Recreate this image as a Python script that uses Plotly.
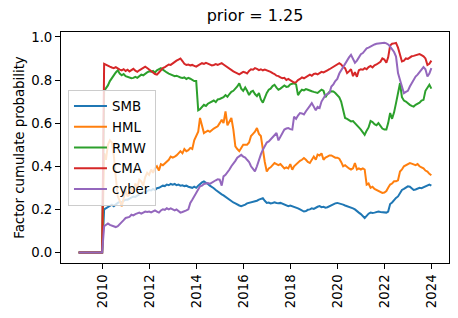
import pandas as pd
import plotly.graph_objects as go

try:
    dates = pd.date_range("2008-12-31", "2023-12-31", freq="ME")
except Exception:
    dates = pd.date_range("2008-12-31", "2023-12-31", freq="M")

ZEROS = [0.0] * 13  # 2008-12 .. 2009-12

smb = ZEROS + [
    0.200, 0.205, 0.210, 0.218, 0.222, 0.215, 0.225, 0.230, 0.235, 0.232, 0.240, 0.245,
    0.245, 0.250, 0.255, 0.260, 0.258, 0.265, 0.270, 0.275, 0.280, 0.278, 0.285, 0.290,
    0.288, 0.295, 0.290, 0.298, 0.300, 0.305, 0.310, 0.308, 0.315, 0.312, 0.318, 0.315,
    0.318, 0.312, 0.315, 0.310, 0.312, 0.308, 0.310, 0.305, 0.302, 0.300, 0.305, 0.300,
    0.310, 0.318, 0.325, 0.330, 0.325, 0.318, 0.310, 0.305, 0.298, 0.290, 0.282, 0.278,
    0.270, 0.265, 0.258, 0.250, 0.242, 0.238, 0.232, 0.228, 0.222, 0.218, 0.215, 0.218,
    0.222, 0.228, 0.230, 0.232, 0.235, 0.238, 0.240, 0.245, 0.248, 0.252, 0.240, 0.230,
    0.232, 0.228, 0.230, 0.233, 0.230, 0.228, 0.230, 0.226, 0.222, 0.220, 0.215, 0.218,
    0.215, 0.212, 0.210, 0.205, 0.200, 0.195, 0.190, 0.192, 0.198, 0.200, 0.205, 0.202,
    0.208, 0.212, 0.215, 0.210, 0.212, 0.208, 0.210, 0.215, 0.220, 0.225, 0.228, 0.230,
    0.228, 0.225, 0.222, 0.218, 0.215, 0.212, 0.210, 0.205, 0.200, 0.190, 0.185, 0.178,
    0.168, 0.160, 0.170, 0.180, 0.185, 0.183, 0.185, 0.188, 0.190, 0.188, 0.186, 0.184,
    0.185, 0.190, 0.225, 0.232, 0.245, 0.253, 0.260, 0.275, 0.290, 0.295, 0.300, 0.307,
    0.305, 0.298, 0.290, 0.292, 0.295, 0.300, 0.298, 0.302, 0.305, 0.310, 0.315, 0.310,
]

hml = ZEROS + [
    0.460, 0.430, 0.500, 0.520, 0.510, 0.450, 0.350, 0.260, 0.240, 0.215, 0.250, 0.290,
    0.260, 0.270, 0.300, 0.280, 0.320, 0.300, 0.338, 0.330, 0.310, 0.350, 0.370, 0.360,
    0.385, 0.370, 0.390, 0.400, 0.380, 0.410, 0.405, 0.415, 0.420, 0.430, 0.445, 0.440,
    0.445, 0.450, 0.460, 0.470, 0.460, 0.480, 0.470, 0.475, 0.485, 0.480, 0.520, 0.540,
    0.560, 0.624, 0.580, 0.554, 0.560, 0.565, 0.560, 0.570, 0.575, 0.580, 0.585, 0.600,
    0.616, 0.600, 0.654, 0.590, 0.610, 0.624, 0.570, 0.492, 0.480, 0.470, 0.485, 0.500,
    0.500, 0.500, 0.510, 0.540, 0.550, 0.560, 0.577, 0.550, 0.540, 0.470, 0.420, 0.376,
    0.390, 0.395, 0.405, 0.415, 0.410, 0.405, 0.410, 0.400, 0.390, 0.395, 0.390, 0.410,
    0.384, 0.400, 0.410, 0.415, 0.425, 0.430, 0.438, 0.430, 0.420, 0.415, 0.430, 0.445,
    0.430, 0.454, 0.450, 0.460, 0.430, 0.440, 0.445, 0.450, 0.450, 0.445, 0.440, 0.440,
    0.435, 0.420, 0.400, 0.405, 0.395, 0.390, 0.385, 0.390, 0.415, 0.385, 0.390, 0.385,
    0.390, 0.385, 0.315, 0.320, 0.300, 0.305, 0.295, 0.290, 0.284, 0.280, 0.276, 0.278,
    0.285, 0.300, 0.315, 0.320, 0.330, 0.330, 0.335, 0.376, 0.385, 0.400, 0.405, 0.410,
    0.415, 0.412, 0.410, 0.405, 0.410, 0.400, 0.395, 0.390, 0.380, 0.375, 0.365, 0.358,
]

rmw = ZEROS + [
    0.750, 0.760, 0.775, 0.795, 0.810, 0.825, 0.835, 0.845, 0.830, 0.822, 0.828, 0.818,
    0.815, 0.812, 0.808, 0.810, 0.815, 0.810, 0.820, 0.825, 0.822, 0.830, 0.835, 0.840,
    0.838, 0.842, 0.835, 0.845, 0.850, 0.855, 0.848, 0.840, 0.835, 0.830, 0.825, 0.822,
    0.818, 0.820, 0.815, 0.812, 0.810, 0.812, 0.805, 0.810, 0.806, 0.800, 0.795, 0.795,
    0.660, 0.665, 0.675, 0.685, 0.680, 0.690, 0.695, 0.700, 0.705, 0.698, 0.710, 0.712,
    0.715, 0.720, 0.730, 0.722, 0.735, 0.745, 0.750, 0.760, 0.770, 0.785, 0.760, 0.750,
    0.765, 0.750, 0.730, 0.745, 0.750, 0.735, 0.725, 0.740, 0.710, 0.695, 0.720, 0.740,
    0.755, 0.760, 0.772, 0.778, 0.765, 0.755, 0.760, 0.770, 0.775, 0.768, 0.770, 0.780,
    0.782, 0.785, 0.780, 0.730, 0.745, 0.755, 0.752, 0.758, 0.755, 0.750, 0.748, 0.745,
    0.742, 0.740, 0.748, 0.755, 0.750, 0.720, 0.735, 0.745, 0.748, 0.747, 0.740, 0.730,
    0.720, 0.700, 0.660, 0.624, 0.620, 0.615, 0.608, 0.610, 0.600, 0.585, 0.580, 0.570,
    0.560, 0.546, 0.565, 0.580, 0.610, 0.605, 0.595, 0.590, 0.600, 0.585, 0.575, 0.570,
    0.570, 0.600, 0.647, 0.620, 0.650, 0.693, 0.740, 0.785, 0.720, 0.705, 0.700, 0.690,
    0.685, 0.680, 0.677, 0.685, 0.690, 0.695, 0.705, 0.708, 0.750, 0.765, 0.778, 0.760,
]

cma = ZEROS + [
    0.875, 0.870, 0.865, 0.862, 0.858, 0.855, 0.860, 0.853, 0.848, 0.845, 0.850, 0.842,
    0.848, 0.840, 0.845, 0.852, 0.843, 0.838, 0.845, 0.850, 0.855, 0.862, 0.856, 0.850,
    0.842, 0.835, 0.828, 0.825, 0.835, 0.845, 0.855, 0.860, 0.866, 0.872, 0.870, 0.878,
    0.885, 0.890, 0.895, 0.900, 0.888, 0.875, 0.870, 0.872, 0.868, 0.870, 0.866, 0.862,
    0.868, 0.872, 0.878, 0.875, 0.880, 0.876, 0.872, 0.868, 0.870, 0.874, 0.870, 0.875,
    0.878, 0.872, 0.865, 0.858, 0.850, 0.845, 0.840, 0.835, 0.830, 0.826, 0.832, 0.838,
    0.835, 0.830, 0.842, 0.850, 0.848, 0.855, 0.852, 0.846, 0.850, 0.845, 0.848, 0.845,
    0.843, 0.838, 0.832, 0.828, 0.820, 0.818, 0.812, 0.808, 0.810, 0.800, 0.805, 0.798,
    0.795, 0.788, 0.790, 0.800, 0.805, 0.812, 0.808, 0.815, 0.818, 0.825, 0.820, 0.828,
    0.830, 0.826, 0.832, 0.838, 0.835, 0.842, 0.845, 0.850, 0.855, 0.860, 0.865, 0.870,
    0.878, 0.872, 0.860, 0.855, 0.832, 0.840, 0.850, 0.818, 0.836, 0.815, 0.845, 0.850,
    0.848, 0.855, 0.850, 0.860, 0.865, 0.858, 0.868, 0.872, 0.880, 0.885, 0.900, 0.895,
    0.880, 0.905, 0.960, 0.968, 0.970, 0.972, 0.950, 0.915, 0.886, 0.890, 0.900, 0.898,
    0.905, 0.910, 0.912, 0.915, 0.918, 0.920, 0.915, 0.910, 0.900, 0.870, 0.875, 0.890,
]

cyber = ZEROS + [
    0.122, 0.130, 0.135, 0.128, 0.125, 0.120, 0.118, 0.122, 0.130, 0.140, 0.150, 0.160,
    0.162, 0.165, 0.175, 0.172, 0.178, 0.180, 0.185, 0.180, 0.185, 0.190, 0.188, 0.190,
    0.186, 0.190, 0.195, 0.190, 0.185, 0.195, 0.200, 0.198, 0.205, 0.200, 0.205, 0.200,
    0.195, 0.200, 0.190, 0.185, 0.188, 0.190, 0.195, 0.200, 0.230, 0.245, 0.260, 0.276,
    0.290, 0.307, 0.310, 0.318, 0.320, 0.322, 0.318, 0.325, 0.330, 0.335, 0.340, 0.338,
    0.310, 0.353, 0.360, 0.370, 0.385, 0.400, 0.410, 0.425, 0.440, 0.446, 0.453, 0.445,
    0.440, 0.430, 0.420, 0.400, 0.390, 0.376, 0.400, 0.430, 0.455, 0.477, 0.495, 0.510,
    0.515, 0.525, 0.535, 0.545, 0.554, 0.520, 0.535, 0.555, 0.570, 0.575, 0.577, 0.572,
    0.570, 0.630, 0.620, 0.635, 0.647, 0.645, 0.640, 0.655, 0.670, 0.680, 0.693, 0.675,
    0.660, 0.675, 0.670, 0.700, 0.715, 0.730, 0.735, 0.740, 0.770, 0.780, 0.795, 0.805,
    0.830, 0.845, 0.860, 0.878, 0.890, 0.905, 0.917, 0.895, 0.880, 0.890, 0.905, 0.920,
    0.925, 0.935, 0.947, 0.950, 0.955, 0.963, 0.965, 0.968, 0.970, 0.972, 0.974, 0.973,
    0.970, 0.965, 0.955, 0.945, 0.930, 0.909, 0.832, 0.800, 0.770, 0.739, 0.745, 0.750,
    0.770, 0.785, 0.800, 0.816, 0.825, 0.835, 0.847, 0.860, 0.850, 0.816, 0.830, 0.855,
]

series_names = ["SMB", "HML", "RMW", "CMA", "cyber"]
series_values = [smb, hml, rmw, cma, cyber]
colors = ["#1f77b4", "#ff7f0e", "#2ca02c", "#d62728", "#9467bd"]

FONT = "DejaVu Sans"

fig = go.Figure()
for name, vals, col in zip(series_names, series_values, colors):
    fig.add_trace(go.Scatter(
        x=dates, y=vals, mode="lines", name=name,
        line=dict(color=col, width=2),
        legendgroup=name,
    ))

# matplotlib-like 5% margins
all_vals = [v for s in series_values for v in s]
ymin, ymax = min(all_vals), max(all_vals)
yspan = ymax - ymin
xspan = dates[-1] - dates[0]
xr = [dates[0] - xspan * 0.05, dates[-1] + xspan * 0.05]

fig.update_layout(
    width=458, height=318,
    margin=dict(l=61.3, r=8.7, t=32.3, b=54.7),
    paper_bgcolor="white", plot_bgcolor="white",
    font=dict(family=FONT, size=13.3, color="black"),
    title=dict(text="prior = 1.25", font=dict(size=16, family=FONT, color="black"),
               x=0.5, xref="paper", xanchor="center",
               y=1 - 15 / 318, yref="container", yanchor="middle"),
    showlegend=True,
    hovermode=False,
    legend=dict(
        x=0.018, y=0.75, xanchor="left", yanchor="top",
        bgcolor="rgba(255,255,255,0.8)", bordercolor="#cccccc", borderwidth=1,
        font=dict(size=13.3, family=FONT, color="black"),
        tracegroupgap=0.5, itemwidth=33,
    ),
)

fig.update_xaxes(
    type="date", range=xr, automargin=False,
    tick0="2010-01-01", dtick="M24", tickformat="%Y",
    tickangle=-90,
    ticks="outside", ticklen=5, tickwidth=1, tickcolor="black",
    showline=True, linecolor="black", linewidth=1, mirror=True,
    showgrid=False, zeroline=False,
    tickfont=dict(size=13.3, family=FONT, color="black"),
)
fig.update_yaxes(
    range=[ymin - 0.05 * yspan, ymax + 0.05 * yspan], automargin=False,
    tickvals=[0.0, 0.2, 0.4, 0.6, 0.8, 1.0], tickformat=".1f",
    ticks="outside", ticklen=5, tickwidth=1, tickcolor="black",
    showline=True, linecolor="black", linewidth=1, mirror=True,
    showgrid=False, zeroline=False,
    tickfont=dict(size=13.3, family=FONT, color="black"),
    title=dict(text="Factor cumulate probability", font=dict(size=13.3, family=FONT, color="black"),
               standoff=3),
)

fig.write_html("out.html", config={"displayModeBar": False},
               post_script="document.body.style.margin='0';")
